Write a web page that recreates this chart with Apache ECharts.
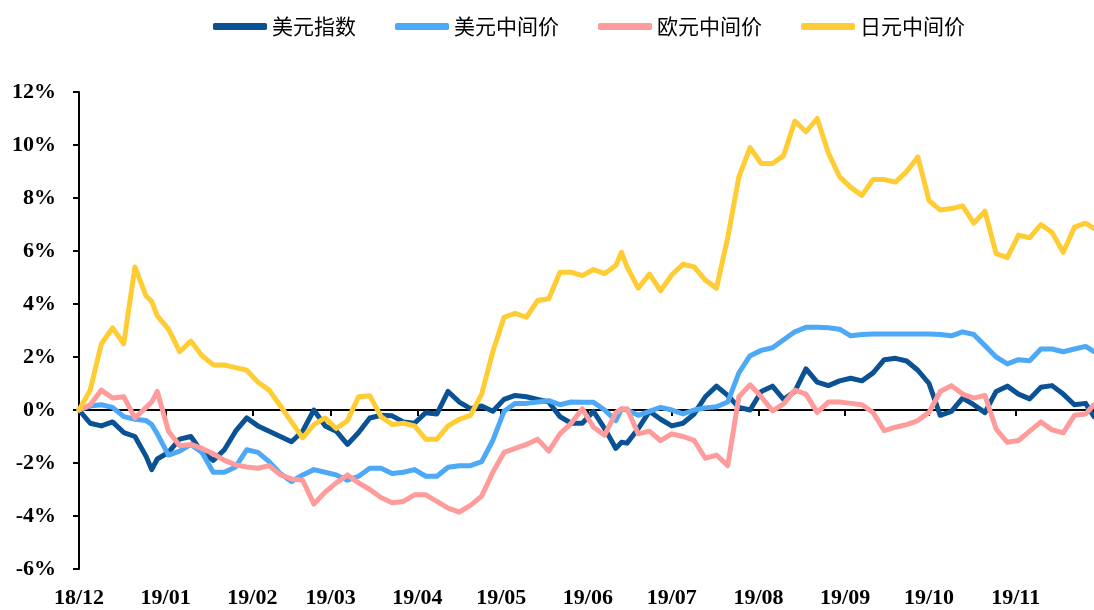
<!DOCTYPE html>
<html>
<head>
<meta charset="utf-8">
<script src="https://cdn.jsdelivr.net/npm/echarts@6/dist/echarts.min.js"></script>
<style>html,body{margin:0;padding:0;background:#fff}#c{width:1094px;height:610px}</style>
</head>
<body>
<div id="c"></div>
<script>
const dates = ['2018-12-01','2018-12-05','2018-12-09','2018-12-13','2018-12-17','2018-12-21','2018-12-25','2018-12-27','2018-12-29',
'2019-01-02','2019-01-06','2019-01-10','2019-01-14','2019-01-18','2019-01-22','2019-01-26','2019-01-30',
'2019-02-03','2019-02-07','2019-02-11','2019-02-15','2019-02-19','2019-02-23','2019-02-27',
'2019-03-03','2019-03-07','2019-03-11','2019-03-15','2019-03-19','2019-03-23','2019-03-27','2019-03-31',
'2019-04-04','2019-04-08','2019-04-12','2019-04-16','2019-04-20','2019-04-24','2019-04-28',
'2019-05-02','2019-05-06','2019-05-10','2019-05-14','2019-05-18','2019-05-22','2019-05-26','2019-05-30',
'2019-06-03','2019-06-07','2019-06-11','2019-06-13','2019-06-15','2019-06-19','2019-06-23','2019-06-27',
'2019-07-01','2019-07-05','2019-07-09','2019-07-13','2019-07-17','2019-07-21','2019-07-25','2019-07-29',
'2019-08-02','2019-08-06','2019-08-10','2019-08-14','2019-08-18','2019-08-22','2019-08-26','2019-08-30',
'2019-09-03','2019-09-07','2019-09-11','2019-09-15','2019-09-19','2019-09-23','2019-09-27',
'2019-10-01','2019-10-05','2019-10-09','2019-10-13','2019-10-17','2019-10-21','2019-10-25','2019-10-29',
'2019-11-02','2019-11-06','2019-11-10','2019-11-14','2019-11-18','2019-11-22','2019-11-26','2019-11-29'];

const usdIndex = [0,-0.5,-0.6,-0.45,-0.85,-1.0,-1.75,-2.25,-1.85,
-1.6,-1.1,-1.0,-1.6,-1.9,-1.5,-0.8,-0.3,
-0.6,-0.8,-1.0,-1.2,-0.8,0.0,-0.6,
-0.8,-1.3,-0.85,-0.3,-0.2,-0.22,-0.45,-0.5,
-0.1,-0.15,0.7,0.3,0.05,0.15,-0.05,
0.4,0.55,0.5,0.4,0.3,-0.25,-0.5,-0.5,
-0.05,-0.7,-1.45,-1.22,-1.25,-0.7,-0.05,-0.35,
-0.6,-0.5,-0.15,0.5,0.9,0.55,0.1,0.0,
0.7,0.9,0.4,0.7,1.55,1.05,0.92,1.1,
1.2,1.1,1.4,1.9,1.95,1.85,1.5,
1.0,-0.2,-0.05,0.45,0.2,-0.1,0.7,0.9,
0.6,0.42,0.86,0.92,0.6,0.2,0.25,-0.25];

const usdCny = [0,0.15,0.2,0.1,-0.25,-0.35,-0.4,-0.55,-0.9,
-1.7,-1.55,-1.3,-1.6,-2.35,-2.35,-2.15,-1.5,
-1.6,-1.95,-2.4,-2.7,-2.45,-2.25,-2.35,
-2.45,-2.65,-2.5,-2.2,-2.2,-2.4,-2.35,-2.25,
-2.5,-2.5,-2.16,-2.1,-2.1,-1.95,-1.15,
-0.05,0.25,0.25,0.3,0.35,0.2,0.3,0.29,
0.29,0.0,-0.4,0.04,0.0,-0.2,-0.05,0.1,
0.0,-0.15,0.0,0.08,0.12,0.3,1.4,2.05,
2.25,2.35,2.65,2.95,3.12,3.12,3.1,3.05,
2.8,2.85,2.87,2.87,2.87,2.87,2.87,
2.87,2.85,2.8,2.95,2.85,2.43,2.0,1.74,
1.9,1.86,2.3,2.3,2.2,2.3,2.4,2.2];

const eurCny = [0,0.2,0.75,0.45,0.5,-0.3,0.1,0.3,0.7,
-0.8,-1.35,-1.3,-1.45,-1.65,-1.9,-2.07,-2.15,
-2.2,-2.1,-2.45,-2.6,-2.65,-3.55,-3.1,
-2.75,-2.45,-2.75,-3.0,-3.3,-3.5,-3.45,-3.2,
-3.2,-3.45,-3.7,-3.85,-3.6,-3.25,-2.35,
-1.6,-1.45,-1.3,-1.1,-1.55,-0.9,-0.5,0.05,
-0.65,-0.95,-0.1,0.04,0.05,-0.9,-0.8,-1.16,
-0.9,-1.0,-1.15,-1.82,-1.7,-2.1,0.5,0.95,
0.5,-0.03,0.23,0.75,0.6,-0.09,0.3,0.3,
0.25,0.2,-0.1,-0.78,-0.65,-0.55,-0.4,
-0.09,0.7,0.92,0.6,0.45,0.55,-0.72,-1.22,
-1.15,-0.8,-0.45,-0.75,-0.86,-0.2,-0.15,0.2];

const jpyCny = [0,0.75,2.5,3.1,2.5,5.4,4.3,4.1,3.55,
3.05,2.2,2.6,2.05,1.7,1.7,1.6,1.5,
1.05,0.75,0.16,-0.45,-1.05,-0.55,-0.3,
-0.7,-0.4,0.5,0.54,-0.25,-0.55,-0.5,-0.6,
-1.1,-1.1,-0.6,-0.35,-0.2,0.6,2.2,
3.5,3.65,3.5,4.13,4.2,5.2,5.2,5.07,
5.3,5.15,5.45,5.95,5.4,4.6,5.13,4.5,
5.1,5.5,5.4,4.9,4.6,6.5,8.8,9.9,
9.3,9.3,9.6,10.9,10.5,11.0,9.7,8.8,
8.4,8.1,8.7,8.7,8.6,9.0,9.55,
7.9,7.55,7.6,7.7,7.05,7.5,5.9,5.75,
6.6,6.5,7.0,6.7,5.95,6.9,7.05,6.85];

const seriesNames = ['美元指数','美元中间价','欧元中间价','日元中间价'];
const seriesData = [usdIndex, usdCny, eurCny, jpyCny];
const colors = ['#0a5294','#4da8f5','#ff9b9b','#ffcc33'];
const yTicks = {min:-6, max:12, interval:2};

const serif = '"Liberation Serif","Times New Roman",serif';
function fmtMonth(v){const d=new Date(v);return String(d.getFullYear()).slice(2)+'/'+String(d.getMonth()+1).padStart(2,'0');}
const DAY = 86400000;

const chart = echarts.init(document.getElementById('c'), null, {renderer:'canvas'});
chart.setOption({
  animation:false,
  color: colors,
  legend:{
    data: seriesNames, left:208, top:11, itemGap:39, itemWidth:54, itemHeight:7,
    icon:'roundRect',
    textStyle:{fontFamily:'"Noto Sans CJK SC"', fontSize:21, color:'#000'}
  },
  grid:{left:79, right:0, top:92, bottom:41, containLabel:false},
  xAxis:[{
    type:'time', min:dates[0], max:dates[dates.length-1],
    splitNumber:12, minInterval:30*DAY, maxInterval:30*DAY,
    axisLine:{show:false, onZero:false}, axisTick:{show:false}, splitLine:{show:false},
    axisLabel:{formatter:fmtMonth, fontFamily:serif, fontWeight:'bold', fontSize:22, color:'#000', margin:18, hideOverlap:false, showMinLabel:true, showMaxLabel:false}
  },{
    type:'time', min:dates[0], max:dates[dates.length-1], position:'top',
    splitNumber:12, minInterval:30*DAY, maxInterval:30*DAY,
    axisLine:{show:true, onZero:true, lineStyle:{color:'#000', width:2}},
    axisTick:{show:true, inside:true, length:6, lineStyle:{color:'#000', width:2}},
    axisLabel:{show:false}, splitLine:{show:false}
  }],
  yAxis:{
    type:'value', min:yTicks.min, max:yTicks.max, interval:yTicks.interval,
    axisLine:{show:true, lineStyle:{color:'#000', width:2}},
    axisTick:{show:true, length:6, lineStyle:{color:'#000', width:2}},
    splitLine:{show:false},
    axisLabel:{formatter:'{value}%', fontFamily:serif, fontWeight:'bold', fontSize:22, color:'#000', margin:23}
  },
  series: seriesNames.map((n,i)=>({
    name:n, type:'line', xAxisIndex:0, showSymbol:false, symbol:'none',
    lineStyle:{width:5, color:colors[i], cap:'round', join:'round'},
    itemStyle:{color:colors[i]},
    data: dates.map((d,j)=>[d, seriesData[i][j]])
  }))
});
</script>
</body>
</html>
